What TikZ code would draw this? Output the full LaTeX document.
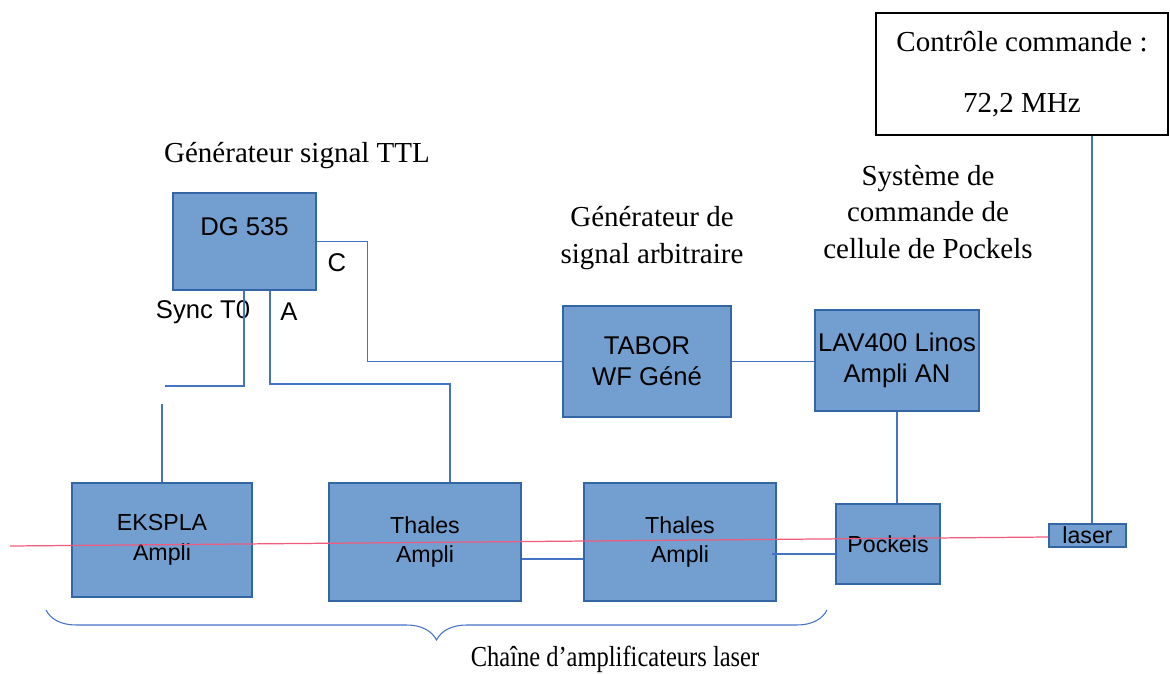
\documentclass[tikz,border=0pt]{standalone}
\usepackage{fontspec}
\setmainfont{Liberation Serif}
\setsansfont{Liberation Sans}
\usetikzlibrary{calc,decorations.pathreplacing}
\definecolor{boxfill}{RGB}{114,159,207}
\definecolor{boxline}{RGB}{52,101,164}
\definecolor{wirecol}{RGB}{68,114,196}
\definecolor{beamcol}{RGB}{240,90,125}

\begin{document}
\begin{tikzpicture}[x=0.02cm,y=-0.02cm,
  box/.style={draw=boxline,fill=boxfill,line width=0.6pt,inner sep=0pt,align=center,
    font=\sffamily\fontsize{13.2}{17}\selectfont},
  bigbox/.style={box,font=\sffamily\fontsize{14.6}{17.5}\selectfont},
  port/.style={font=\sffamily\fontsize{14.6}{17.5}\selectfont},
  lbl/.style={align=center,font=\fontsize{16.5}{21}\selectfont},
  wire/.style={draw=wirecol,line width=0.6pt}]
\useasboundingbox (0,0) rectangle (1170,673);
% appareils
\node[bigbox,minimum width=2.86cm,minimum height=1.94cm] (dg) at (244.5,241.5) {DG 535\\~};
\node[bigbox,minimum width=3.36cm,minimum height=2.22cm] (tabor) at (647,361.5) {TABOR\\WF Géné};
\node[bigbox,minimum width=3.28cm,minimum height=2.02cm] (lav) at (897,360.5) {LAV400 Linos\\Ampli AN};
\node[box,minimum width=3.6cm,minimum height=2.28cm] (ekspla) at (162,540) {EKSPLA\\Ampli};
\node[box,minimum width=3.84cm,minimum height=2.36cm] (t1) at (425,542) {Thales\\Ampli};
\node[box,minimum width=3.84cm,minimum height=2.36cm] (t2) at (680,542) {Thales\\Ampli};
\node[box,minimum width=2.08cm,minimum height=1.6cm] (pockels) at (888,544) {Pockels};
\node[box,minimum width=1.54cm,minimum height=0.46cm] (laser) at (1087.5,535.5) {laser};
\node[draw,fill=white,line width=0.8pt,minimum width=5.84cm,minimum height=2.44cm,lbl] (ctrl) at (1022,74)
  {Contrôle commande :\\[14pt]72,2 MHz};
% sorties du DG 535
\node[port] (sync) at (203,312) {Sync T0};
\node[port] (pa) at (289,312) {A};
\node[port] (pc) at (337,263) {C};
% liaisons
\draw[wire] (dg.east) -- ++(51,0) |- (tabor.west);
\draw[wire] (tabor.east) -- (tabor.east -| lav.west);
\draw[wire] (lav.south) -- (lav.south |- pockels.north);
\draw[wire] (ctrl.south -| 1092,0) -- (laser.north -| 1092,0);
\draw[wire] (dg.south -| 270,0) -- (270,384) -| (t1.north -| 450,0);
\coordinate (s1) at (165,386);
\coordinate (s2) at (190,386);
\draw[wire] (dg.south -| 244,0) |- (s1);
\draw[wirecol,line width=1.6pt] (s1) -- (s2);
\draw[wire] (ekspla.north) -- ++(0,-78);
\draw[wire] (t1.east |- 0,559) -- (t2.west |- 0,559);
\coordinate (t2out) at (772,554);
\draw[wire] (t2out) -- (t2out -| pockels.west);
% faisceau laser
\coordinate (beamstart) at (10,546);
\draw[beamcol,line width=0.7pt] (beamstart) -- (laser.west |- 0,537);
% accolade
\coordinate (bl) at (46,610);
\coordinate (br) at (827,610);
\draw[wire,decorate,decoration={brace,mirror,amplitude=0.6cm}] (bl) -- (br);
% textes
\node[lbl] (ttl) at (297,156) {Générateur signal TTL};
\node[lbl] (arb) at (652,238) {Générateur de\\signal arbitraire};
\node[lbl] (sys) at (928,212) {Système de\\commande de\\cellule de Pockels};
\node[lbl] (chain) at (615,659) {\scalebox{0.845}[1]{Chaîne d’amplificateurs laser}};
\end{tikzpicture}
\end{document}
